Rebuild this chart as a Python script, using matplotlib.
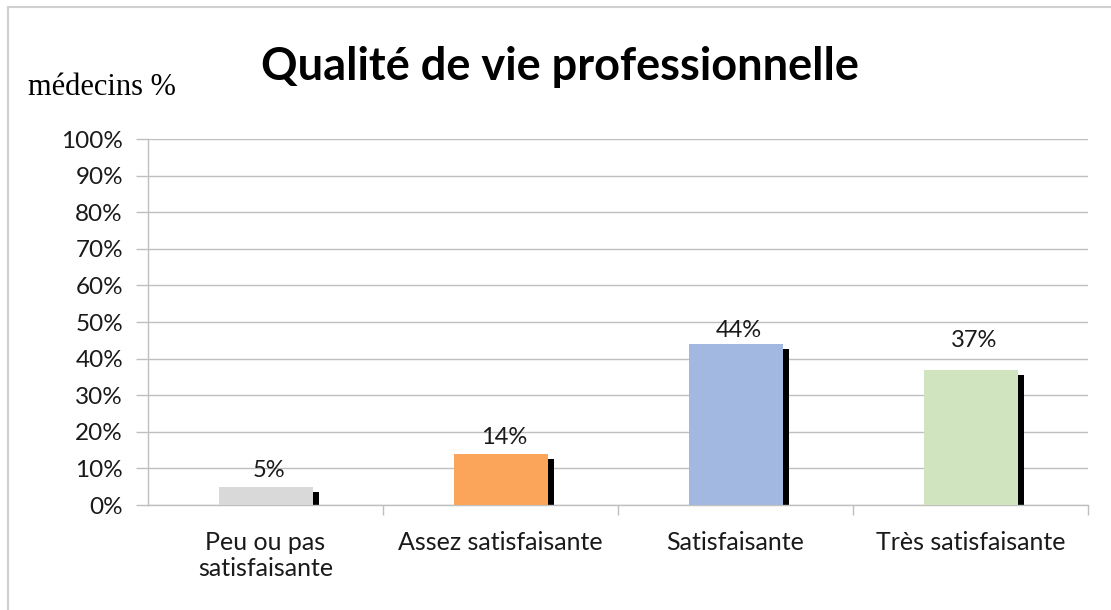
import matplotlib
matplotlib.use("Agg")
import matplotlib.pyplot as plt
import numpy as np
from matplotlib.patches import Rectangle
from matplotlib.ticker import FixedLocator, PercentFormatter

categories = ["Peu ou pas\nsatisfaisante", "Assez satisfaisante", "Satisfaisante", "Très satisfaisante"]
values = [5, 14, 44, 37]
value_labels = ["5%", "14%", "44%", "37%"]
y_ticks = list(range(0, 101, 10))
title = "Qualité de vie professionnelle"
ylabel = "médecins %"

colors = ["#D9D9D9", "#FAA55A", "#A2B8E1", "#D0E4C0"]
label_offsets_px = [6, 6, 3, 19]

W, H, DPI = 1111, 610, 100
fig = plt.figure(figsize=(W / DPI, H / DPI), dpi=DPI)
fig.patch.set_facecolor("white")

ax = fig.add_axes([148 / W, 1 - 505 / H, (1088 - 148) / W, (505 - 139) / H])

x = np.arange(len(categories))
bar_w = 0.40
shadow_dx = 0.027
shadow_drop = 1.2

vals = np.array(values, dtype=float)
ax.bar(x + shadow_dx, vals - shadow_drop, bottom=-0.3, width=bar_w, color="black", zorder=2, clip_on=False)
ax.bar(x, vals, width=bar_w, color=colors, zorder=3)

for xi, v, lab, off in zip(x, vals, value_labels, label_offsets_px):
    ax.annotate(lab, (xi + shadow_dx / 2, v), xytext=(0, off * 72 / DPI), textcoords="offset points",
                ha="center", va="bottom", fontsize=17, family="Lato", color="#1a1a1a", zorder=4)

ax.set_xlim(-0.5, 3.5)
ax.set_ylim(0, 100)
ax.yaxis.set_major_locator(FixedLocator(y_ticks))
ax.yaxis.set_major_formatter(PercentFormatter(decimals=0))
ax.grid(axis="y", color="#BFBFBF", linewidth=1.0, zorder=0)
ax.set_axisbelow(True)

ax.set_xticks(x)
ax.set_xticklabels(categories, fontsize=18, family="Lato", color="#1a1a1a", linespacing=1.15)
ax.set_xticks([0.5, 1.5, 2.5, 3.5], minor=True)
ax.tick_params(axis="x", which="major", length=0, pad=18.5)
ax.tick_params(axis="x", which="minor", length=7, color="#BFBFBF", width=1)
ax.tick_params(axis="y", length=9, color="#BFBFBF", width=1, pad=9, labelsize=17.5, labelcolor="#1a1a1a")
for t in ax.get_yticklabels():
    t.set_family("Lato")

for s in ["top", "right"]:
    ax.spines[s].set_visible(False)
for s in ["left", "bottom"]:
    ax.spines[s].set_color("#BFBFBF")
    ax.spines[s].set_linewidth(1.0)

fig.text(560 / W, 1 - 80 / H, title, ha="center", va="baseline", fontsize=32.5, fontweight="bold", family="Lato")
fig.text(28 / W, 1 - 95 / H, ylabel, ha="left", va="baseline", fontsize=22, family="Liberation Serif")

fig.patches.append(Rectangle((8 / W, -0.1), 1.2, 1.1 - 7 / H, transform=fig.transFigure,
                             fill=False, edgecolor="#D0D0D0", linewidth=1.5))

fig.savefig("out.png", dpi=DPI)
